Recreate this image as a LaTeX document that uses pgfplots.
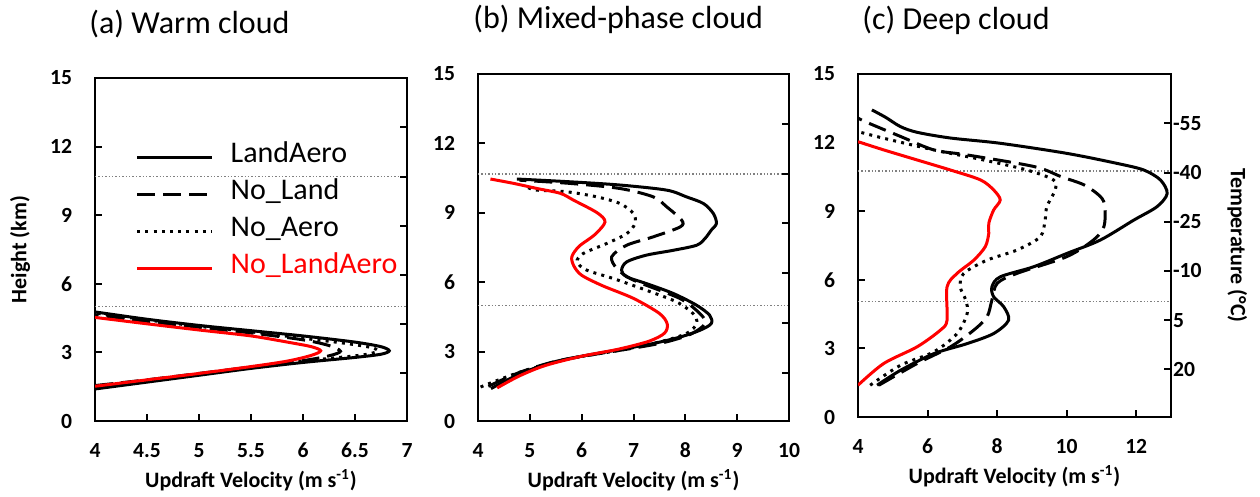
\documentclass[border=0pt]{standalone}
\usepackage{pgfplots}
\pgfplotsset{compat=1.18}
\usepackage{fontspec}
\setmainfont{Carlito}
\pgfplotsset{
  base/.style={
    scale only axis,
    anchor=south west,
    axis line style={line width=1bp},
    every tick/.style={line width=1bp, black},
    major tick length=3.3bp,
    tick align=inside,
    ymin=0, ymax=15,
    ticklabel style={font=\fontsize{10.8bp}{12bp}\selectfont\bfseries},
    /pgf/number format/assume math mode=true,
    xticklabel style={yshift=-7.5bp},
    yticklabel style={xshift=-8bp},
    every axis x label/.style={at={(axis description cs:0.5,-0.172)}, anchor=center, font=\fontsize{11bp}{13bp}\selectfont\bfseries},
    every axis y label/.style={at={(axis description cs:-0.24,0.5)}, anchor=center, rotate=90, font=\fontsize{11bp}{13bp}\selectfont\bfseries},
    every axis title/.style={anchor=west, inner sep=0pt, font=\fontsize{16bp}{19bp}\selectfont},
  },
  main/.style={base, xtick pos=bottom, ytick pos=left, ytick={0,3,...,15},
    xlabel={Updraft Velocity (m s\textsuperscript{-1})}},
  over/.style={base, axis x line=none, axis y line*=right, xmin=0, xmax=1,
    ytick={2.08,4.23,6.39,8.54,10.69,12.85}, yticklabel style={xshift=5.5bp}},
  la/.style={black, line width=1.5bp, smooth},
  nl/.style={black, line width=1.5bp, dash pattern=on 9bp off 4bp, smooth},
  na/.style={black, line width=1.5bp, dash pattern=on 1.5bp off 2.6bp, smooth},
  nla/.style={red, line width=1.5bp, smooth},
  gl/.style={gray, line width=0.7bp, dash pattern=on 0.7bp off 1bp},
}
\begin{document}
\begin{tikzpicture}
\useasboundingbox (0,0) rectangle (630bp,248.5bp);
% ---------- (a)
\begin{axis}[main, at={(47.5bp,38bp)}, width=156bp, height=171.5bp,
  xmin=4, xmax=7, xtick={4,4.5,...,7},
  ylabel={Height (km)},
  title={(a) Warm cloud}, title style={at={(axis description cs:-0.019,1.158)}},
  legend style={at={(axis cs:4.33,12.53)}, anchor=north west, draw=none, fill=none,
    font=\fontsize{15bp}{18bp}\selectfont,
    nodes={inner sep=0pt, text height=12bp, text depth=6.5bp},
    /tikz/every odd column/.append style={column sep=8.5bp}},
  legend cell align=left,
  legend image code/.code={\draw[#1] (0bp,0bp) -- (37.5bp,0bp);},
]
\addplot[gl, forget plot] coordinates {(4,10.68) (7,10.68)};
\addplot[gl, forget plot] coordinates {(4,5.0) (7,5.0)};
\addplot[la] coordinates {(4,1.40)(4.5,1.70)(5,2.0)(5.5,2.3)(6,2.56)(6.5,2.78)(6.75,2.92)(6.83,3.07)(6.75,3.25)(6.5,3.45)(6,3.72)(5.5,3.95)(5,4.18)(4.5,4.45)(4,4.77)};
\addlegendentry{LandAero}
\addplot[nl] coordinates {(4,1.55)(4.5,1.8)(5,2.08)(5.5,2.36)(6,2.64)(6.25,2.85)(6.36,3.05)(6.25,3.3)(6,3.55)(5.5,3.85)(5,4.1)(4.5,4.36)(4,4.65)};
\addlegendentry{No\_Land}
\addplot[na] coordinates {(4,1.5)(4.5,1.78)(5,2.05)(5.5,2.35)(6,2.62)(6.5,2.85)(6.65,2.95)(6.72,3.07)(6.65,3.22)(6.4,3.4)(6,3.62)(5.5,3.9)(5,4.14)(4.5,4.42)(4,4.72)};
\addlegendentry{No\_Aero}
\addplot[nla] coordinates {(4,1.52)(4.5,1.8)(5,2.08)(5.5,2.38)(5.85,2.62)(6.08,2.87)(6.17,3.07)(6.08,3.25)(5.85,3.45)(5.5,3.72)(5,3.98)(4.5,4.25)(4,4.53)};
\addlegendentry{\textcolor{red}{No\_LandAero}}
\end{axis}
\begin{axis}[over, at={(47.5bp,38bp)}, width=156bp, height=171.5bp, yticklabels={}]
\end{axis}
% ---------- (b)
\begin{axis}[main, at={(239bp,38bp)}, width=155.5bp, height=173.5bp,
  xmin=4, xmax=10, xtick={4,5,...,10},
  title={(b) Mixed-phase cloud}, title style={at={(axis description cs:-0.016,1.156)}},
]
\addplot[gl] coordinates {(4,10.67) (10,10.67)};
\addplot[gl] coordinates {(4,4.98) (10,4.98)};
\addplot[la] coordinates {(4.25,1.40)(4.82,2.05)(5.46,2.55)(6.1,2.84)(6.74,3.09)(7.38,3.35)(7.9,3.63)(8.28,3.92)(8.5,4.21)(8.47,4.57)(8.22,5.0)(7.77,5.51)(7.25,5.94)(6.87,6.23)(6.77,6.52)(6.87,6.88)(7.25,7.17)(7.77,7.38)(8.22,7.6)(8.38,7.89)(8.5,8.25)(8.6,8.54)(8.54,8.97)(8.35,9.4)(8.02,9.69)(7.64,9.98)(6.74,10.2)(5.78,10.34)(4.75,10.46)};
\addplot[nl] coordinates {(4.2,1.5)(4.8,2.1)(5.5,2.58)(6.3,2.9)(7.0,3.15)(7.6,3.4)(8.1,3.75)(8.38,4.2)(8.3,4.6)(7.9,5.29)(7.0,6.09)(6.68,6.59)(6.58,7.1)(6.87,7.6)(7.38,7.96)(7.9,8.39)(7.93,8.68)(7.64,9.26)(7.38,9.69)(6.74,10.05)(5.78,10.27)(4.8,10.41)};
\addplot[na] coordinates {(4.05,1.47)(4.82,2.12)(5.78,2.7)(6.74,3.06)(7.51,3.42)(8.02,3.78)(8.22,4.21)(8.15,4.64)(7.83,5.15)(7.25,5.65)(6.61,6.16)(6.1,6.52)(5.91,6.88)(6.03,7.24)(6.48,7.67)(6.87,8.1)(7.03,8.54)(7.0,8.97)(6.74,9.4)(6.29,9.69)(5.71,9.91)(5.14,9.98)(4.95,10.1)};
\addplot[nla] coordinates {(4.37,1.43)(4.8,1.95)(5.3,2.4)(6.0,2.8)(6.7,3.1)(7.3,3.45)(7.6,3.8)(7.65,4.2)(7.5,4.65)(7.0,5.3)(6.4,5.85)(6.0,6.3)(5.85,6.7)(5.81,7.1)(5.95,7.55)(6.25,8.05)(6.45,8.6)(6.3,9.0)(5.84,9.55)(5.59,9.84)(5.14,10.05)(4.69,10.27)(4.24,10.46)};
\end{axis}
\begin{axis}[over, at={(239bp,38bp)}, width=155.5bp, height=173.5bp, yticklabels={}]
\end{axis}
% ---------- (c)
\begin{axis}[main, at={(429bp,40bp)}, width=156.5bp, height=171.5bp,
  xmin=4, xmax=13, xtick={4,6,...,12},
  title={(c) Deep cloud}, title style={at={(axis description cs:0.013,1.157)}},
]
\addplot[gl] coordinates {(4,10.76) (13,10.76)};
\addplot[gl] coordinates {(4,5.04) (13,5.04)};
\addplot[la] coordinates {(4.55,1.39)(5.22,2.04)(6.18,2.77)(7.14,3.21)(7.9,3.65)(8.33,4.23)(8.19,4.82)(7.9,5.26)(7.85,5.69)(8.09,6.13)(9.05,6.57)(10.0,7.15)(10.97,7.74)(11.93,8.61)(12.6,9.2)(12.89,9.77)(12.7,10.36)(12.22,10.8)(11.45,11.09)(10.0,11.53)(8.09,11.97)(6.66,12.2)(5.7,12.45)(5.22,12.7)(4.8,13.1)(4.4,13.43)};
\addplot[nl] coordinates {(4.6,1.39)(5.7,2.34)(6.66,3.07)(7.33,3.8)(7.71,4.38)(7.85,5.11)(8.0,5.84)(8.57,6.28)(10.0,7.01)(10.77,7.74)(11.07,8.32)(11.1,9.2)(10.97,9.64)(10.5,10.15)(9.84,10.51)(9.07,10.95)(7.14,11.46)(6.18,11.68)(5.22,12.27)(4.26,12.88)(4.0,13.07)};
\addplot[na] coordinates {(4.35,1.39)(5.22,2.26)(6.18,2.85)(6.85,3.65)(7.14,4.53)(7.1,5.11)(6.94,5.69)(7.04,6.28)(7.71,6.86)(8.57,7.3)(9.24,7.88)(9.38,8.61)(9.43,9.2)(9.67,9.93)(9.62,10.37)(8.86,10.8)(7.61,11.24)(6.18,11.68)(4.74,12.19)(4.0,12.48)};
\addplot[nla] coordinates {(4.0,1.39)(4.74,2.34)(5.7,3.07)(6.37,3.8)(6.56,4.23)(6.56,5.69)(6.85,6.28)(7.33,6.86)(7.66,7.45)(7.76,8.03)(7.76,8.47)(7.9,9.05)(8.09,9.49)(7.9,9.93)(7.52,10.37)(6.66,10.8)(5.7,11.24)(4.74,11.68)(4.0,12.04)};
\end{axis}
\begin{axis}[over, at={(429bp,40bp)}, width=156.5bp, height=171.5bp,
  yticklabels={20,5,-10,-25,-40,-55},
  ylabel={Temperature (°C)},
  every axis y label/.style={at={(axis description cs:1.212,0.5)}, anchor=center, rotate=-90, font=\fontsize{11bp}{13bp}\selectfont\bfseries},
]
\end{axis}
\end{tikzpicture}
\end{document}
